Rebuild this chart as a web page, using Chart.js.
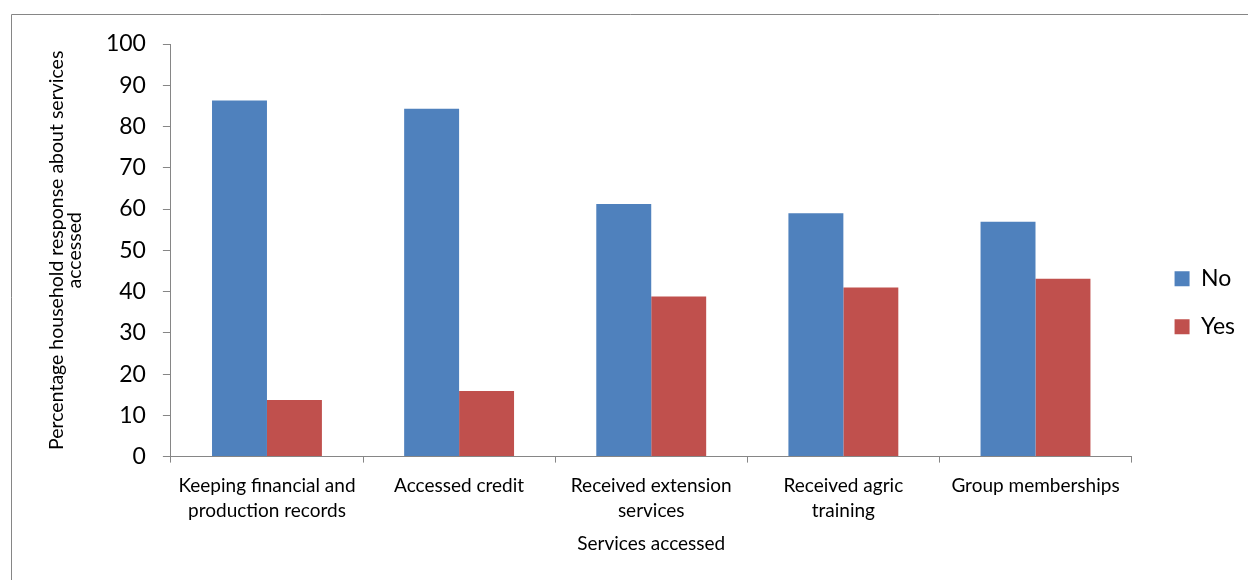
<!DOCTYPE html>
<html>
<head>
<meta charset="utf-8">
<script src="https://cdn.jsdelivr.net/npm/chart.js@4/dist/chart.umd.min.js"></script>
<style>
html,body{margin:0;padding:0;background:#fff;}
#wrap{width:1248px;height:580px;position:relative;}
</style>
</head>
<body>
<div id="wrap"><canvas id="c" width="1248" height="580"></canvas></div>
<script>
const categories = [
  ['Keeping financial and', 'production records'],
  'Accessed credit',
  ['Received extension', 'services'],
  ['Received agric', 'training'],
  'Group memberships'
];
const noValues = [86.3, 84.3, 61.2, 59.0, 56.9];
const yesValues = [13.7, 15.9, 38.8, 41.0, 43.1];
const yTicks = [0, 10, 20, 30, 40, 50, 60, 70, 80, 90, 100];

const FONT = 'Lato, "Open Sans", sans-serif';
const AXIS = '#868686';

const frame = {
  id: 'frame',
  beforeDraw(chart) {
    const ctx = chart.ctx;
    ctx.save();
    ctx.fillStyle = '#fff';
    ctx.fillRect(0, 0, chart.width, chart.height);
    ctx.strokeStyle = '#868686';
    ctx.lineWidth = 1;
    ctx.beginPath();
    ctx.moveTo(11.5, 590);
    ctx.lineTo(11.5, 14.5);
    ctx.lineTo(1260, 14.5);
    ctx.stroke();
    ctx.restore();
  }
};

new Chart(document.getElementById('c'), {
  type: 'bar',
  data: {
    labels: categories,
    datasets: [
      { label: 'No', data: noValues, backgroundColor: '#4F81BD', borderWidth: 0 },
      { label: 'Yes', data: yesValues, backgroundColor: '#C0504D', borderWidth: 0 }
    ]
  },
  options: {
    responsive: false,
    animation: false,
    devicePixelRatio: 1,
    layout: { padding: { left: 48, top: 44, right: 3, bottom: 27 } },
    datasets: { bar: { categoryPercentage: 0.572, barPercentage: 1.0 } },
    plugins: {
      tooltip: { enabled: false },
      legend: {
        position: 'right',
        align: 'center',
        title: { display: true, text: ' ', font: { size: 2 }, padding: { top: 0, bottom: 6 } },
        labels: {
          boxWidth: 15, boxHeight: 15, padding: 25,
          color: '#000',
          font: { family: FONT, size: 23 }
        }
      }
    },
    scales: {
      x: {
        grid: { display: true, drawOnChartArea: false, drawTicks: true, tickLength: 6, tickColor: AXIS, offset: true },
        border: { display: true, color: AXIS, width: 1 },
        ticks: { color: '#000', font: { family: FONT, size: 19, lineHeight: 1.3 }, padding: 11, maxRotation: 0, autoSkip: false },
        title: { display: true, text: 'Services accessed', color: '#000', font: { family: FONT, size: 19, lineHeight: 1.0 }, padding: { top: 0, bottom: 0 } }
      },
      y: {
        min: 0, max: 100,
        afterBuildTicks(axis) { axis.ticks = yTicks.map(v => ({ value: v })); },
        grid: { display: true, drawOnChartArea: false, drawTicks: true, tickLength: 8, tickColor: AXIS },
        border: { display: true, color: AXIS, width: 1 },
        ticks: { color: '#000', font: { family: FONT, size: 23 }, padding: 17 },
        title: { display: true, text: ['Percentage household response about services', 'accessed'], color: '#000', font: { family: FONT, size: 19.5, lineHeight: 0.92 }, padding: { top: 0, bottom: 5 } }
      },
      gap: {
        type: 'linear', position: 'right', display: true,
        ticks: { display: false }, grid: { display: false }, border: { display: false },
        afterFit(scale) { scale.width = 18; }
      }
    }
  },
  plugins: [frame]
});
</script>
</body>
</html>
